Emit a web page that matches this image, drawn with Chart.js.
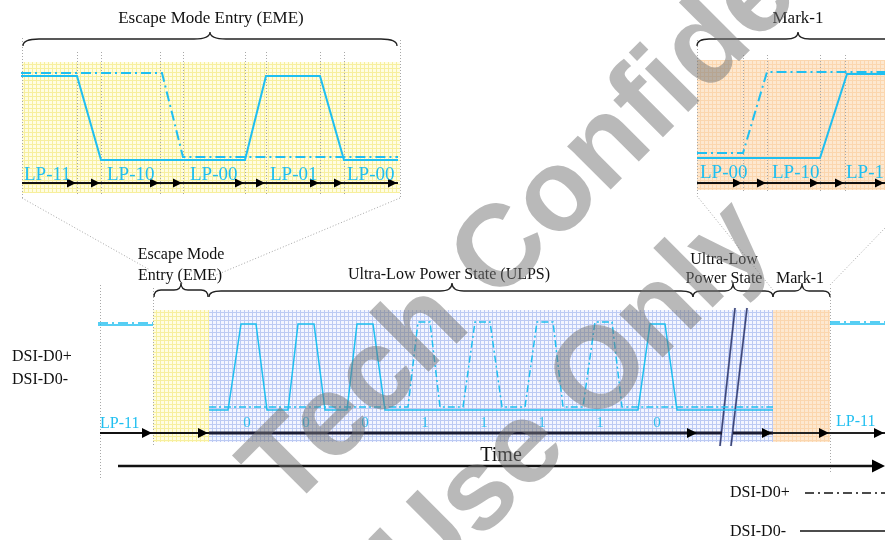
<!DOCTYPE html>
<html><head><meta charset="utf-8">
<script src="https://cdn.jsdelivr.net/npm/chart.js@4/dist/chart.umd.min.js"></script>
<style>html,body{margin:0;padding:0;background:#fff;overflow:hidden}#c{display:block}</style>
</head><body>
<canvas id="c" width="885" height="540"></canvas>
<script>
// ---------- DATA (diagram units: x = time position, y = signal level, top-down) ----------
// Zoom inset: Escape Mode Entry
const emeDp = [[21,73],[162,73],[183,157],[398,157]];
const emeDm = [[21,76],[77,76],[101,160],[245,160],[266,76],[320,76],[344,160],[398,160]];
const emeStates = ['LP-11','LP-10','LP-00','LP-01','LP-00'];
const emeStateX = [24,107,190,270,347];
const emeSteps = [22,77,101,160,183,245,266,320,344,398];
// Zoom inset: Mark-1
const m1Dp = [[697,153],[743,153],[767,72],[885,72]];
const m1Dm = [[697,158],[820,158],[847,74],[885,74]];
const m1States = ['LP-00','LP-10','LP-11'];
const m1StateX = [700,772,846];
const m1Steps = [697,743,767,820,845,885];
// Main timeline
const preDp = [[98,323],[153,323]];
const preDm = [[98,325],[153,325]];
const ulpsDp = [[209,407],[408,407],[418,322],[430,322],[440,407],[463,407],[475,322],[490,322],[502,407],
                [525,407],[537,322],[553,322],[563,407],[583,407],[595,322],[612,322],[622,407],[773,407]];
const ulpsDm = [[209,410],[228,410],[241,324],[256,324],[267,410],[288,410],[298,324],[314,324],[325,410],
                [347,410],[357,324],[373,324],[385,410],[638,410],[650,324],[665,324],[677,410],[773,410]];
const postDp = [[830,322],[885,322]];
const postDm = [[830,324],[885,324]];
const bits = ['0','0','0','1','1','1','1','0'];
const bitX = [247,306,365,425,484,542,600,657];
const mainSteps = [153,209,698,773,830,885];
// Regions
const regionNames = ['insetEME','insetM1','EME','ULPS','M1'];
const regionX0 = [22,697,153,209,773];
const regionX1 = [400,885,209,773,830];
const regionY0 = [62,60,310,310,310];
const regionY1 = [193,190,442,442,442];
const regionFill = ['yellow','orange','yellow','blue','orange'];
// Watermark
const wmText = ['Tech Confidential','Use Only'];
const wmX = [606,575];
const wmY = [149,400];

// ---------- helpers ----------
const pts = a => a.map(p => ({x:p[0], y:p[1]}));
const CYAN = '#1fbff0';
const DASHDOT = [10,4,2,4];
function ln(a, color, w, dash){
  return {data: pts(a), showLine:true, borderColor:color, borderWidth:w, borderDash:dash||[],
          pointRadius:0, fill:false, tension:0};
}
function makePattern(kind){
  const c = document.createElement('canvas'); c.width = 4; c.height = 4;
  const g = c.getContext('2d');
  const cfg = {yellow:['#fffde2','#f7ef9e'], blue:['#f3f5ff','#bccaf3'], orange:['#fde8d0','#fbd6ae']}[kind];
  g.fillStyle = cfg[0]; g.fillRect(0,0,4,4);
  g.fillStyle = cfg[1]; g.fillRect(0,0,4,1); g.fillRect(0,0,1,4);
  return g.createPattern(c,'repeat');
}

const datasets = [
  ln(emeDp, CYAN, 2, DASHDOT), ln(emeDm, CYAN, 2),
  ln(m1Dp, CYAN, 2, DASHDOT), ln(m1Dm, CYAN, 2),
  ln(preDm, CYAN, 1.5), ln(preDp, CYAN, 1.5, DASHDOT),
  ln(ulpsDp, CYAN, 1.5, [7,3,2,3]), ln(ulpsDm, CYAN, 1.5),
  ln(postDm, CYAN, 1.5), ln(postDp, CYAN, 1.5, DASHDOT),
  ln([[22,183],[398,183]], '#111', 2),
  ln([[697,183],[885,183]], '#111', 2),
  ln([[100,433],[209,433]], '#111', 2),
  ln([[209,433],[722,433]], '#1b1b33', 3),
  ln([[733,433],[773,433]], '#1b1b33', 3),
  ln([[773,433],[885,433]], '#222', 2),
  ln([[118,466],[880,466]], '#111', 2.5),
  ln([[735,308],[720,446]], 'rgba(110,130,220,0.45)', 2.4), ln([[735,308],[720,446]], '#151520', 1.5),
  ln([[747,308],[731,446]], 'rgba(110,130,220,0.45)', 2.4), ln([[747,308],[731,446]], '#151520', 1.5),
  ln([[805,493],[885,493]], '#111', 1.3, [9,4,2,4]),
  ln([[800,531],[885,531]], '#111', 1.3)
];

const diagram = {
  id:'diagram',
  beforeDatasetsDraw(chart){
    const {ctx, scales:{x, y}} = chart;
    const X = v => x.getPixelForValue(v), Y = v => y.getPixelForValue(v);
    ctx.save();
    ctx.fillStyle = '#fff'; ctx.fillRect(X(0), Y(0), X(885)-X(0), Y(540)-Y(0));
    regionNames.forEach((n,i) => {
      ctx.fillStyle = makePattern(regionFill[i]);
      ctx.fillRect(X(regionX0[i]), Y(regionY0[i]), X(regionX1[i])-X(regionX0[i]), Y(regionY1[i])-Y(regionY0[i]));
    });
    // dotted guides
    ctx.strokeStyle = '#a8a8a8'; ctx.lineWidth = 1; ctx.setLineDash([1,2]);
    const vline = (xv, y0, y1) => { ctx.beginPath(); ctx.moveTo(X(xv)+0.5, Y(y0)); ctx.lineTo(X(xv)+0.5, Y(y1)); ctx.stroke(); };
    const seg = (a,b,c,d) => { ctx.beginPath(); ctx.moveTo(X(a),Y(b)); ctx.lineTo(X(c),Y(d)); ctx.stroke(); };
    vline(22,38,198); vline(400,40,198);
    emeSteps.slice(1,-1).forEach(s => vline(s,52,194));
    vline(697,40,196);
    m1Steps.slice(1,-1).forEach(s => vline(s,55,192));
    vline(100,285,478); vline(153,288,446); vline(830,288,472);
    seg(22,198,150,270); seg(400,198,209,278); seg(697,196,773,290); seg(885,228,830,285);
    ctx.restore();
  },
  afterDatasetsDraw(chart){
    const {ctx, scales:{x, y}} = chart;
    const X = v => x.getPixelForValue(v), Y = v => y.getPixelForValue(v);
    ctx.save();
    const head = (xv, yv, len, hw, col) => {
      ctx.fillStyle = col || '#000';
      ctx.beginPath(); ctx.moveTo(X(xv), Y(yv)); ctx.lineTo(X(xv)-len, Y(yv)-hw); ctx.lineTo(X(xv)-len, Y(yv)+hw); ctx.closePath(); ctx.fill();
    };
    emeSteps.slice(1).forEach(s => head(s-1,183,9,4.5));
    m1Steps.slice(1).forEach(s => head(s-1,183,9,4.5));
    head(152,433,10,5); mainSteps.slice(1).forEach(s => head(s-1,433,10,5));
    head(885,466,13,6.5);
    // braces
    ctx.strokeStyle = '#222'; ctx.lineWidth = 1.3;
    const brace = (x1,x2,xm,yE,yL,yP,r) => {
      ctx.beginPath();
      ctx.moveTo(X(x1),Y(yE));
      ctx.quadraticCurveTo(X(x1),Y(yL),X(x1+r),Y(yL));
      ctx.lineTo(X(xm-r),Y(yL));
      ctx.quadraticCurveTo(X(xm),Y(yL),X(xm),Y(yP));
      ctx.quadraticCurveTo(X(xm),Y(yL),X(xm+r),Y(yL));
      ctx.lineTo(X(x2-r),Y(yL));
      ctx.quadraticCurveTo(X(x2),Y(yL),X(x2),Y(yE));
      ctx.stroke();
    };
    brace(23,397,210,46,39,32,16);
    brace(697,905,798,46,39,32,12);
    brace(154,208,181,297,290,283,7);
    brace(209,693,452,297,291,283,12);
    brace(693,773,733,297,291,283,8);
    brace(773,830,802,297,291,283,7);
    // texts
    const txt = (s, xv, yv, font, col, align) => {
      ctx.font = font; ctx.fillStyle = col; ctx.textAlign = align || 'center'; ctx.textBaseline = 'middle';
      ctx.fillText(s, X(xv), Y(yv));
    };
    const SERIF = '"Liberation Serif","Times New Roman",serif';
    txt('Escape Mode Entry (EME)', 211, 19, '17px '+SERIF, '#111');
    txt('Mark-1', 798, 19, '17px '+SERIF, '#111');
    emeStates.forEach((s,i) => txt(s, emeStateX[i], 175, '19px '+SERIF, CYAN, 'left'));
    m1States.forEach((s,i) => txt(s, m1StateX[i], 173, '19px '+SERIF, CYAN, 'left'));
    txt('Escape Mode', 181, 255, '16px '+SERIF, '#111');
    txt('Entry (EME)', 180, 276, '16px '+SERIF, '#111');
    txt('Ultra-Low Power State (ULPS)', 449, 275, '16px '+SERIF, '#111');
    txt('Ultra-Low', 724, 260, '16px '+SERIF, '#111');
    txt('Power State', 724, 279, '16px '+SERIF, '#111');
    txt('Mark-1', 800, 279, '16px '+SERIF, '#111');
    txt('DSI-D0+', 12, 357, '16px '+SERIF, '#111', 'left');
    txt('DSI-D0-', 12, 380, '16px '+SERIF, '#111', 'left');
    txt('LP-11', 100, 424, '16px '+SERIF, CYAN, 'left');
    txt('LP-11', 836, 422, '16px '+SERIF, CYAN, 'left');
    bits.forEach((b,i) => txt(b, bitX[i], 423, '15px '+SERIF, '#2fbdf0'));
    txt('Time', 501, 456, '20px '+SERIF, '#111');
    txt('DSI-D0+', 730, 493, '16px '+SERIF, '#111', 'left');
    txt('DSI-D0-', 730, 532, '16px '+SERIF, '#111', 'left');
    // watermark
    wmText.forEach((s,i) => {
      ctx.save(); ctx.translate(X(wmX[i]), Y(wmY[i])); ctx.rotate(-45*Math.PI/180);
      ctx.font = 'bold 116px "Liberation Sans",Arial,sans-serif'; ctx.fillStyle = 'rgba(115,115,115,0.5)';
      ctx.textAlign = 'center'; ctx.textBaseline = 'middle'; ctx.fillText(s, 0, 0); ctx.restore();
    });
    ctx.restore();
  }
};

new Chart(document.getElementById('c'), {
  type:'scatter',
  data:{datasets},
  options:{
    responsive:false, animation:false, events:[],
    layout:{padding:0},
    plugins:{legend:{display:false}, tooltip:{enabled:false}},
    scales:{
      x:{type:'linear', min:0, max:885, display:false},
      y:{type:'linear', min:0, max:540, reverse:true, display:false}
    }
  },
  plugins:[diagram]
});
</script>
</body></html>
